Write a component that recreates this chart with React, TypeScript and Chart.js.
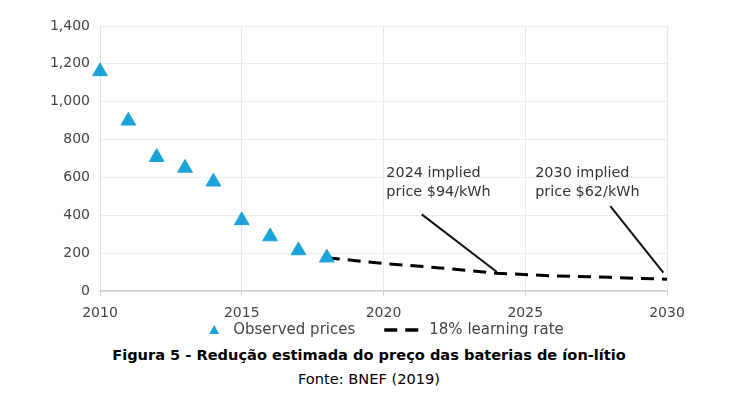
import React, { useEffect, useRef } from "react";
import { Chart, registerables } from "chart.js";
Chart.register(...registerables);

const observedYears = [2010, 2011, 2012, 2013, 2014, 2015, 2016, 2017, 2018];
const observedPrices = [1160, 899, 707, 650, 577, 373, 288, 214, 176];
const projectionYears = [2018, 2020, 2022, 2024, 2026, 2028, 2030];
const projectionPrices = [176, 145, 122, 94, 80, 72, 62];
const callout2024 = [{ x: 2021.35, y: 405 }, { x: 2024, y: 100 }];
const callout2030 = [{ x: 2028, y: 449 }, { x: 2029.87, y: 97 }];
const calloutTexts = [
  { x: 2020.1, lines: ["2024 implied", "price $94/kWh"], y: [622, 521] },
  { x: 2025.35, lines: ["2030 implied", "price $62/kWh"], y: [622, 521] },
];
const legendLabels = ["Observed prices", "18% learning rate"];
const yTicks = [0, 200, 400, 600, 800, 1000, 1200, 1400];

const BLUE = "#1ba3d9";
const FONT = "'DejaVu Sans', sans-serif";
const TEXT = "#444";

const textPlugin = {
  id: "calloutText",
  afterDatasetsDraw(chart: any) {
    const { ctx, scales } = chart;
    ctx.save();
    ctx.fillStyle = "#333";
    ctx.font = `14.4px ${FONT}`;
    ctx.textAlign = "left";
    ctx.textBaseline = "middle";
    calloutTexts.forEach((t) => {
      t.lines.forEach((line, i) => {
        ctx.fillText(line, scales.x.getPixelForValue(t.x), scales.y.getPixelForValue(t.y[i]));
      });
    });
    ctx.restore();
  },
};

const legendPlugin = {
  id: "customLegend",
  afterDraw(chart: any) {
    const { ctx } = chart;
    ctx.save();
    ctx.font = `15px ${FONT}`;
    ctx.textBaseline = "middle";
    ctx.textAlign = "left";
    const y = 330;
    const w1 = ctx.measureText(legendLabels[0]).width;
    const w2 = ctx.measureText(legendLabels[1]).width;
    const total = 10 + 14 + w1 + 29 + 34 + 11 + w2;
    let x = 386.5 - total / 2;
    ctx.fillStyle = BLUE;
    ctx.beginPath();
    ctx.moveTo(x + 5, y - 5);
    ctx.lineTo(x + 10, y + 4);
    ctx.lineTo(x, y + 4);
    ctx.closePath();
    ctx.fill();
    x += 24;
    ctx.fillStyle = TEXT;
    ctx.fillText(legendLabels[0], x, y);
    x += w1 + 29;
    ctx.strokeStyle = "#000";
    ctx.lineWidth = 3.5;
    ctx.beginPath();
    ctx.moveTo(x, y);
    ctx.lineTo(x + 13, y);
    ctx.moveTo(x + 21, y);
    ctx.lineTo(x + 34, y);
    ctx.stroke();
    x += 34 + 11;
    ctx.fillText(legendLabels[1], x, y);
    ctx.restore();
  },
};

export default function App() {
  const ref = useRef<HTMLCanvasElement>(null);
  useEffect(() => {
    document.body.style.margin = "0";
    const chart = new Chart(ref.current!, {
      type: "line",
      data: {
        datasets: [
          {
            label: legendLabels[0],
            data: observedYears.map((x, i) => ({ x, y: observedPrices[i] })),
            showLine: false,
            pointStyle: "triangle",
            pointRadius: 8.5,
            pointBackgroundColor: BLUE,
            pointBorderColor: BLUE,
            pointBorderWidth: 1,
            clip: false,
            order: 1,
          },
          {
            label: legendLabels[1],
            data: projectionYears.map((x, i) => ({ x, y: projectionPrices[i] })),
            borderColor: "#000",
            borderWidth: 3,
            borderDash: [13, 8],
            pointRadius: 0,
            tension: 0,
            clip: false,
            order: 2,
          },
          {
            label: "c1",
            data: callout2024,
            borderColor: "#111",
            borderWidth: 2,
            pointRadius: 0,
          },
          {
            label: "c2",
            data: callout2030,
            borderColor: "#111",
            borderWidth: 2,
            pointRadius: 0,
          },
        ],
      },
      options: {
        animation: false,
        responsive: false,
        layout: { padding: { left: 0, right: 71, top: 26, bottom: 15 } },
        plugins: { legend: { display: false }, tooltip: { enabled: false } },
        scales: {
          x: {
            type: "linear",
            min: 2010,
            max: 2030,
            afterFit: (s: any) => { s.height = 34; },
            ticks: {
              stepSize: 5,
              callback: (v: any) => String(v),
              color: TEXT,
              font: { family: FONT, size: 14 },
              padding: 9,
              maxRotation: 0,
            },
            grid: { color: "#e8e8e8", tickLength: 5, tickColor: "#cfcfcf" },
            border: { color: "#cfcfcf", width: 1.5 },
          },
          y: {
            min: 0,
            max: 1400,
            afterFit: (s: any) => { s.width = 100; },
            afterBuildTicks: (s: any) => { s.ticks = yTicks.map((v) => ({ value: v })); },
            ticks: {
              callback: (v: any) => Number(v).toLocaleString("en-US"),
              color: TEXT,
              font: { family: FONT, size: 14 },
              padding: 10,
            },
            grid: { color: "#ececec", drawTicks: false },
            border: { color: "#e0e0e0" },
          },
        },
      },
      plugins: [textPlugin, legendPlugin],
    });
    return () => chart.destroy();
  }, []);
  return (
    <div style={{ position: "relative", width: 738, height: 396, background: "#fff" }}>
      <canvas ref={ref} width={738} height={340} style={{ display: "block" }} />
      <div
        style={{
          position: "absolute",
          top: 345,
          left: 0,
          width: 738,
          textAlign: "center",
          fontFamily: "'DejaVu Sans', sans-serif",
          fontWeight: "bold",
          fontSize: 14.6,
          color: "#000",
          lineHeight: "20px",
        }}
      >
        Figura 5 - Redução estimada do preço das baterias de íon-lítio
      </div>
      <div
        style={{
          position: "absolute",
          top: 369,
          left: 0,
          width: 738,
          textAlign: "center",
          fontFamily: "'DejaVu Sans', sans-serif",
          fontSize: 14.6,
          color: "#000",
          lineHeight: "20px",
        }}
      >
        Fonte: BNEF (2019)
      </div>
    </div>
  );
}
